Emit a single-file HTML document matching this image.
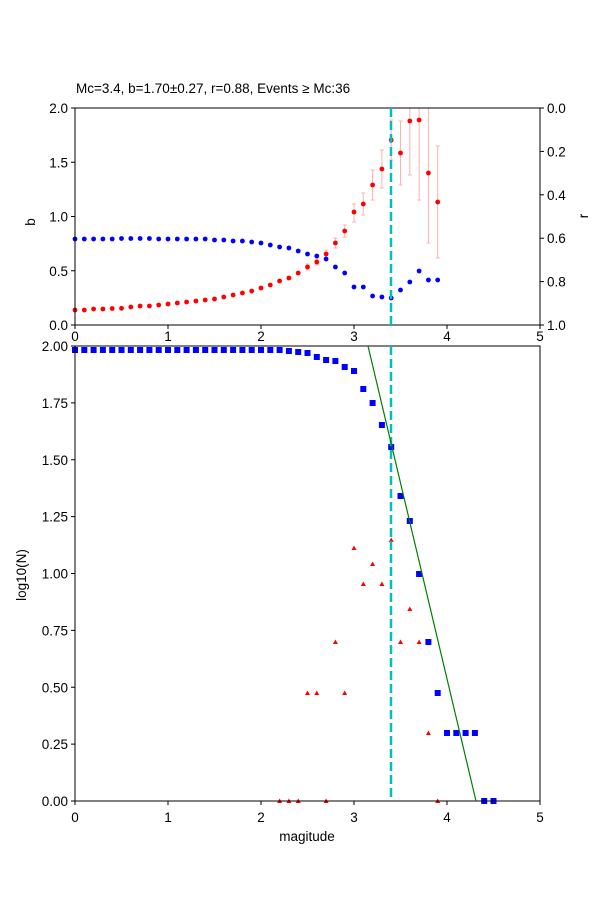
<!DOCTYPE html>
<html><head><meta charset="utf-8"><style>body{margin:0;background:#fff}svg{display:block}text{font-family:"Liberation Sans","DejaVu Sans",sans-serif;font-size:13.5px;fill:#000}</style></head>
<body>
<svg id="s" width="600" height="900" xmlns="http://www.w3.org/2000/svg">
<rect width="600" height="900" fill="#fff"/>
<text x="76" y="93">Mc=3.4, b=1.70±0.27, r=0.88, Events ≥ Mc:36</text>
<g id="gtop"></g>
<g id="gbot"></g>
<rect x="75" y="108" width="465" height="217" fill="none" stroke="#000" stroke-width="1"/>
<rect x="75" y="346" width="465" height="455" fill="none" stroke="#000" stroke-width="1"/>
<line x1="391" y1="108" x2="391" y2="325" stroke="#00bfbf" stroke-width="2.5" stroke-dasharray="9,4"/>
<line x1="391" y1="346" x2="391" y2="801" stroke="#00bfbf" stroke-width="2.5" stroke-dasharray="9,4"/>
<line x1="368" y1="346" x2="476" y2="801" stroke="green" stroke-width="1.2"/>
<g id="gticks"></g>
<text x="35" y="222" transform="rotate(-90 35 222)" text-anchor="middle">b</text>
<text x="588" y="216" transform="rotate(-90 588 216)" text-anchor="middle">r</text>
<text x="26" y="575" transform="rotate(-90 26 575)" text-anchor="middle">log10(N)</text>
<text x="307" y="841" text-anchor="middle">magitude</text>
</svg>
<script>
(function(){
const NS="http://www.w3.org/2000/svg";
function el(p,t,a){const e=document.createElementNS(NS,t);for(const k in a)e.setAttribute(k,a[k]);p.appendChild(e);return e;}
const X=m=>75+93*m;
const gT=document.getElementById('gtop'),gB=document.getElementById('gbot'),tk=document.getElementById('gticks');
const eb={2.5:[264,270],2.6:[259,265],2.7:[250,258],2.8:[238,248],2.9:[225,237],3.0:[204,222],3.1:[193,215],3.2:[170,200],3.3:[150,188],3.4:[120,160],3.5:[121,185],3.6:[108,175],3.7:[108,200],3.8:[108,243],3.9:[146,258]};
for(const k in eb){const x=X(+k);el(gT,'line',{x1:x,x2:x,y1:eb[k][0],y2:eb[k][1],stroke:'#ffb0b0','stroke-width':1});el(gT,'line',{x1:x-2,x2:x+2,y1:eb[k][0],y2:eb[k][0],stroke:'#ffb0b0'});el(gT,'line',{x1:x-2,x2:x+2,y1:eb[k][1],y2:eb[k][1],stroke:'#ffb0b0'});}
const blue=[239,239,239,239,239,238.5,238.5,238.5,238.5,239,239,239,239,239,239,240,240,241,241,242,243,245,247,248,251,254,256,259,267,273,287,287,296,297,298,290,282,271,280,280];
const red=[310,310,309,309,308.5,308.3,307,306,306,305,304,303,302,301,300,299,297,295,293,291,288,285,281,278,273,267,262,254,243,231,212,204,185,169,140,153,121,120,173,202];
blue.forEach((y,i)=>el(gT,'circle',{cx:X(i/10),cy:y,r:2.4,fill:'#0000ff'}));
red.forEach((y,i)=>el(gT,'circle',{cx:X(i/10),cy:y,r:2.4,fill:'#ff0000'}));
const sq=[];for(let i=0;i<=22;i++)sq.push(350);
sq.push(351,352,353,357,360,361,367,371,389,403,425,447,496,521,574,642,693,733,733,733,733,801,801);
sq.forEach((y,i)=>el(gB,'rect',{x:X(i/10)-3,y:y-3,width:6,height:6,fill:'#0000ff'}));
const tri={2.2:801,2.3:801,2.4:801,2.7:801,3.9:801,2.5:693,2.6:693,2.9:693,2.8:642,3.0:548,3.1:584,3.2:564,3.3:584,3.4:540,3.5:642,3.6:609,3.7:642,3.8:733};
for(const k in tri){const x=X(+k),y=tri[k];el(gB,'polygon',{points:`${x-2.5},${y+2} ${x+2.5},${y+2} ${x},${y-2.5}`,fill:'#ff0000'});}
function t(x,y,s,a){const e=el(tk,'text',{x:x,y:y,'text-anchor':a||'middle'});e.textContent=s;}
for(let i=0;i<=5;i++){const x=X(i);
 el(tk,'line',{x1:x,x2:x,y1:325,y2:329,stroke:'#000'});t(x,341,i);
 el(tk,'line',{x1:x,x2:x,y1:801,y2:805,stroke:'#000'});t(x,822,i);}
for(let i=0;i<=4;i++){const y=325-108.5*i/2;el(tk,'line',{x1:71,x2:75,y1:y,y2:y,stroke:'#000'});t(68,y+5,(i*0.5).toFixed(1),'end');}
for(let i=0;i<=5;i++){const y=108+217*i/5;el(tk,'line',{x1:540,x2:544,y1:y,y2:y,stroke:'#000'});t(547,y+5,(i*0.2).toFixed(1),'start');}
for(let i=0;i<=8;i++){const y=801-455*i/8;el(tk,'line',{x1:71,x2:75,y1:y,y2:y,stroke:'#000'});t(68,y+5,(i*0.25).toFixed(2),'end');}
})();
</script>
</body></html>
